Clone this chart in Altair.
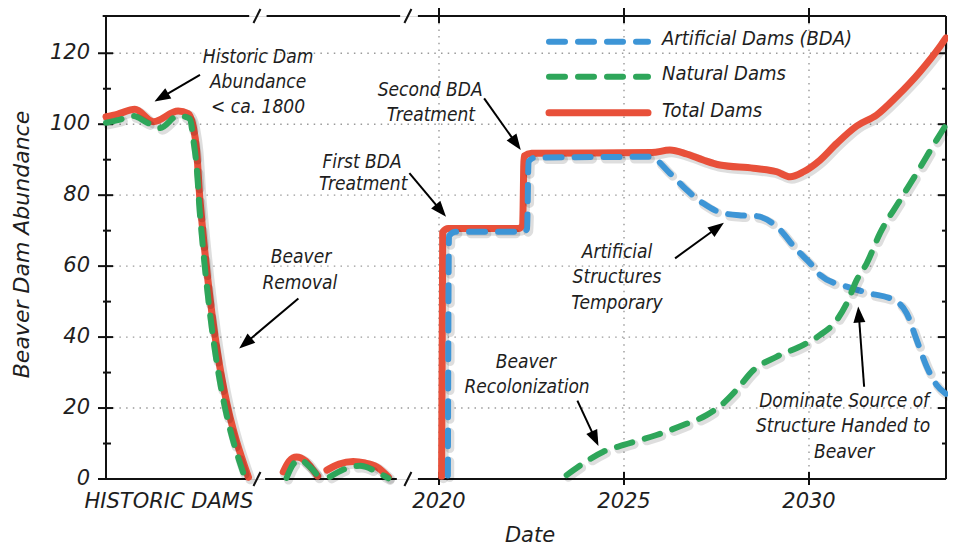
import math
import altair as alt
import pandas as pd

# ---------------- data ----------------
# Total dams (red, solid)
tot_hist_x = [2011.0, 2011.3, 2011.78, 2012.28, 2012.95, 2013.22, 2013.36, 2013.45, 2013.54, 2014.85]
tot_hist_y = [102.1, 102.8, 104.2, 100.7, 103.7, 103.0, 99.3, 92.7, 78.6, 0.5]
tot_mid1_x = [2015.79, 2015.95, 2016.15, 2016.4, 2016.6, 2016.72]
tot_mid1_y = [2.0, 5.0, 6.2, 5.0, 2.5, 0.8]
tot_mid2_x = [2016.97, 2017.3, 2017.68, 2018.0, 2018.32, 2018.63]
tot_mid2_y = [2.5, 4.2, 4.9, 4.5, 3.4, 0.6]
tot_mod_x = [2020.07, 2020.1, 2020.25, 2022.15, 2022.26, 2022.3, 2022.5, 2025.75, 2026.24,
             2026.69, 2027.14, 2027.59, 2028.5, 2029.13, 2029.49, 2029.85, 2030.3, 2030.75,
             2031.29, 2031.83, 2032.37, 2033.0, 2033.54, 2033.70]
tot_mod_y = [0.8, 69.6, 70.6, 70.6, 71.5, 91.0, 91.8, 92.0, 92.7,
             91.6, 89.9, 88.5, 87.6, 86.6, 85.2, 86.6, 89.9, 94.6,
             99.5, 102.6, 107.8, 114.8, 121.9, 124.3]

# Natural dams (green, dashed)
nat_hist_x = [2011.0, 2011.35, 2011.74, 2012.1, 2012.46, 2012.95, 2013.27, 2013.36, 2013.45, 2013.54, 2014.76]
nat_hist_y = [100.4, 101.2, 102.3, 100.5, 98.9, 102.4, 101.5, 95.6, 88.0, 74.5, 0.2]
nat_mid1_x = [2015.88, 2016.05, 2016.24, 2016.5, 2016.78]
nat_mid1_y = [0.3, 4.0, 5.4, 3.5, 0.2]
nat_mid2_x = [2017.05, 2017.5, 2017.86, 2018.32, 2018.63]
nat_mid2_y = [0.6, 3.0, 3.7, 2.0, 0.2]
nat_mod_x = [2023.45, 2023.9, 2024.44, 2024.99, 2025.88, 2026.6, 2027.23, 2027.68, 2028.04,
             2028.5, 2029.13, 2029.85, 2030.3, 2030.75, 2031.02, 2031.29, 2031.56, 2031.92,
             2032.46, 2032.91, 2033.45, 2033.70]
nat_mod_y = [1.1, 4.4, 7.7, 9.6, 12.4, 15.2, 18.0, 21.3, 25.1,
             30.7, 34.5, 37.8, 40.6, 44.8, 49.5, 56.1, 60.8, 69.3,
             78.6, 86.2, 95.6, 99.8]

# Artificial dams / BDA (blue, dashed)
art_mod_x = [2020.24, 2020.27, 2020.45, 2022.3, 2022.38, 2022.42, 2022.6, 2025.7, 2026.24,
             2026.69, 2027.14, 2027.68, 2028.2, 2028.59, 2029.13, 2029.67, 2030.12, 2030.3,
             2031.02, 2031.65, 2032.28, 2032.64, 2032.91, 2033.18, 2033.45, 2033.70]
art_mod_y = [1.0, 68.5, 69.7, 69.7, 70.5, 89.5, 90.6, 90.8, 86.2,
             81.5, 77.7, 74.9, 74.3, 74.1, 71.1, 64.6, 59.8, 57.5,
             54.2, 52.3, 50.5, 46.7, 39.2, 31.7, 26.5, 24.0]

y_major = [0, 20, 40, 60, 80, 100, 120]
y_minor = [10, 30, 50, 70, 90, 110]
y_grid = [20, 40, 60, 80, 100, 120]
x_years = [2020, 2025, 2030]
x_label_pos = [2012.70, 2020, 2025, 2030]
x_label_txt = ["HISTORIC DAMS", "2020", "2025", "2030"]
y_title = "Beaver Dam Abundance"
x_title = "Date"

# annotations: text lines with centre position (year, value)
ann_text = ["Historic Dam", "Abundance", "< ca. 1800", "Beaver", "Removal",
            "First BDA", "Treatment", "Second BDA", "Treatment",
            "Artificial", "Structures", "Temporary", "Beaver", "Recolonization",
            "Dominate Source of", "Structure Handed to", "Beaver"]
ann_x = [2015.11, 2015.11, 2015.11, 2016.27, 2016.24,
         2017.92, 2017.95, 2019.76, 2019.78,
         2024.81, 2024.81, 2024.81, 2022.35, 2022.38,
         2030.95, 2030.92, 2030.95]
ann_y = [119.0, 112.0, 104.9, 62.7, 55.3,
         89.4, 83.2, 109.7, 102.6,
         64.1, 57.0, 49.5, 33.1, 25.8,
         22.1, 14.9, 7.7]

# arrows: tail -> tip
arr_x1 = [2013.54, 2016.20, 2019.20, 2021.22, 2026.38, 2023.74, 2031.49]
arr_y1 = [113.9, 50.9, 86.2, 107.3, 62.2, 22.1, 26.0]
arr_x2 = [2012.31, 2014.60, 2020.19, 2022.21, 2027.70, 2024.31, 2031.33]
arr_y2 = [106.4, 36.8, 73.9, 92.7, 72.2, 9.3, 48.6]

# axis frame pieces (breaks)
top_seg_a = [2010.91, 2015.34, 2019.43]
top_seg_b = [2014.87, 2018.95, 2033.70]
bot_seg_a = [2010.79, 2015.30, 2019.43]
bot_seg_b = [2014.86, 2018.86, 2033.70]
break_pos = [2015.08, 2019.16]

legend_labels = ["Artificial Dams (BDA)", "Natural Dams", "Total Dams"]

# ---------------- layout / style ----------------
W, H = 840, 463
PX_PER_YEAR = 37.0
X0, X1 = 2011.0, 2011.0 + W / PX_PER_YEAR
Y0, Y1 = 0.0, 130.5
PX_PER_UNIT = H / (Y1 - Y0)

RED, GREEN, BLUE = "#E8503A", "#2EA65A", "#3D95D6"
INK = "#1e1e1e"
TICKFONT = "DejaVu Sans"
ANNFONT = "Liberation Sans Narrow, DejaVu Sans Condensed, Arial Narrow, sans-serif"
DASH = [16, 13]

xs = alt.Scale(domain=[X0, X1], nice=False, zero=False)
ys = alt.Scale(domain=[Y0, Y1], nice=False, zero=False)


def X(f):
    return alt.X(f, type="quantitative", scale=xs, axis=None)


def Y(f):
    return alt.Y(f, type="quantitative", scale=ys, axis=None)


def one():
    return pd.DataFrame({"v": [0]})


# ---------------- tables ----------------
def series_df(parts):
    rows = []
    for seg, xx, yy in parts:
        for a, b in zip(xx, yy):
            rows.append({"seg": seg, "year": a, "value": b})
    return pd.DataFrame(rows)


tot_df = series_df([("h", tot_hist_x, tot_hist_y), ("m1", tot_mid1_x, tot_mid1_y),
                    ("m2", tot_mid2_x, tot_mid2_y), ("mod", tot_mod_x, tot_mod_y)])
nat_df = series_df([("h", nat_hist_x, nat_hist_y), ("m1", nat_mid1_x, nat_mid1_y),
                    ("m2", nat_mid2_x, nat_mid2_y), ("mod", nat_mod_x, nat_mod_y)])
art_df = series_df([("mod", art_mod_x, art_mod_y)])

ann_df = pd.DataFrame({"t": ann_text, "x": ann_x, "y": ann_y})

shaft_x2, shaft_y2, angles = [], [], []
for a, b, c, d in zip(arr_x1, arr_y1, arr_x2, arr_y2):
    dx = (c - a) * PX_PER_YEAR
    dy = -(d - b) * PX_PER_UNIT
    L = math.hypot(dx, dy)
    ang = math.degrees(math.atan2(dx, -dy)) % 360
    angles.append(ang)
    back = 10.0
    shaft_x2.append(c - dx / L * back / PX_PER_YEAR)
    shaft_y2.append(d + dy / L * back / PX_PER_UNIT)
arr_df = pd.DataFrame({"x1": arr_x1, "y1": arr_y1, "x2": arr_x2, "y2": arr_y2,
                       "sx2": shaft_x2, "sy2": shaft_y2, "ang": angles})

# ---------------- axis labels & titles (text on the scales) ----------------
lab_style = dict(font=TICKFONT, fontStyle="italic", color=INK)
y_labels = alt.Chart(pd.DataFrame({"v": y_major, "t": [str(v) for v in y_major]})).mark_text(
    align="right", baseline="middle", fontSize=21, **lab_style).encode(
    y=Y("v:Q"), x=alt.value(-16), text="t:N")
x_labels = alt.Chart(pd.DataFrame({"v": x_label_pos, "t": x_label_txt})).mark_text(
    align="center", baseline="alphabetic", fontSize=21, **lab_style).encode(
    x=X("v:Q"), y=alt.value(H + 29), text="t:N")
y_title_l = alt.Chart(one()).mark_text(angle=270, align="center", baseline="middle",
                                       fontSize=22, **lab_style).encode(
    x=alt.value(-84), y=alt.value(H / 2 - 3), text=alt.value(y_title))
x_title_l = alt.Chart(one()).mark_text(align="center", baseline="middle", fontSize=21,
                                       **lab_style).encode(
    x=alt.value(W / 2 + 4), y=alt.value(H + 57), text=alt.value(x_title))

grid_style = dict(color="#9a9a9a", strokeDash=[1.5, 5.2], strokeWidth=1.4)
grid_h = alt.Chart(pd.DataFrame({"v": y_grid})).mark_rule(**grid_style).encode(
    y=Y("v:Q"), x=alt.value(0), x2=alt.value(W))
grid_v = alt.Chart(pd.DataFrame({"v": x_years})).mark_rule(**grid_style).encode(
    x=X("v:Q"), y=alt.value(0), y2=alt.value(H))

frame_style = dict(color="#111", strokeWidth=2)
left_line = alt.Chart(one()).mark_rule(**frame_style).encode(
    x=alt.value(0), y=alt.value(0), y2=alt.value(H))
right_line = alt.Chart(one()).mark_rule(**frame_style).encode(
    x=alt.value(W), y=alt.value(0), y2=alt.value(H))
top_line = alt.Chart(pd.DataFrame({"a": top_seg_a, "b": top_seg_b})).mark_rule(**frame_style).encode(
    x=X("a:Q"), x2="b:Q", y=alt.value(0))
bot_line = alt.Chart(pd.DataFrame({"a": bot_seg_a, "b": bot_seg_b})).mark_rule(**frame_style).encode(
    x=X("a:Q"), x2="b:Q", y=alt.value(H))
brk_df = pd.DataFrame({"a": [p - 3.5 / PX_PER_YEAR for p in break_pos],
                       "b": [p + 3.5 / PX_PER_YEAR for p in break_pos]})
top_brk = alt.Chart(brk_df).mark_rule(**frame_style).encode(
    x=X("a:Q"), x2="b:Q", y=alt.value(7), y2=alt.value(-7))
bot_brk = alt.Chart(brk_df).mark_rule(**frame_style).encode(
    x=X("a:Q"), x2="b:Q", y=alt.value(H + 7), y2=alt.value(H - 7))

tick_style = dict(color="#111", strokeWidth=2)
ymaj_df = pd.DataFrame({"v": y_major})
ymin_df = pd.DataFrame({"v": y_minor})
xt_df = pd.DataFrame({"v": x_years})
lt_major = alt.Chart(ymaj_df).mark_rule(**tick_style).encode(y=Y("v:Q"), x=alt.value(-8), x2=alt.value(7))
lt_minor = alt.Chart(ymin_df).mark_rule(**tick_style).encode(y=Y("v:Q"), x=alt.value(-3), x2=alt.value(5))
rt_major = alt.Chart(ymaj_df).mark_rule(**tick_style).encode(y=Y("v:Q"), x=alt.value(W - 8), x2=alt.value(W))
rt_minor = alt.Chart(ymin_df).mark_rule(**tick_style).encode(y=Y("v:Q"), x=alt.value(W - 4), x2=alt.value(W))
tt = alt.Chart(xt_df).mark_rule(**tick_style).encode(x=X("v:Q"), y=alt.value(-8), y2=alt.value(7))
bt = alt.Chart(xt_df).mark_rule(**tick_style).encode(x=X("v:Q"), y=alt.value(H - 7), y2=alt.value(H + 6))


def line_layer(df, color, dash=None, width=6.5):
    kw = dict(interpolate="monotone", strokeCap="round", strokeJoin="round")
    shadow_kw = dict(kw, color="#000", opacity=0.13, strokeWidth=width + 3)
    main_kw = dict(kw, color=color, strokeWidth=width)
    if dash:
        shadow_kw["strokeDash"] = dash
        main_kw["strokeDash"] = dash
    shadow = alt.Chart(df).transform_calculate(
        sx="datum.year + 0.05", sy="datum.value - 0.6"
    ).mark_line(**shadow_kw).encode(x=X("sx:Q"), y=Y("sy:Q"), detail="seg:N")
    main = alt.Chart(df).mark_line(**main_kw).encode(x=X("year:Q"), y=Y("value:Q"), detail="seg:N")
    return [shadow, main]


lines = (line_layer(tot_df, RED, None, 7) + line_layer(art_df, BLUE, DASH, 6)
         + line_layer(nat_df, GREEN, DASH, 6))

ann = alt.Chart(ann_df).mark_text(font=ANNFONT, fontStyle="italic", fontSize=19, fontWeight=500,
                                  color=INK, align="center", baseline="middle").encode(
    x=X("x:Q"), y=Y("y:Q"), text="t:N")

shafts = alt.Chart(arr_df).mark_rule(color="#000", strokeWidth=2).encode(
    x=X("x1:Q"), x2="sx2:Q", y=Y("y1:Q"), y2="sy2:Q")
heads = alt.Chart(arr_df).mark_point(shape="M0,0 L0.75,2 L-0.75,2 Z", filled=True,
                                     size=256, color="#000", opacity=1).encode(
    x=X("x2:Q"), y=Y("y2:Q"), angle=alt.Angle("ang:Q", scale=None))

# legend (drawn inside the plot, top right)
LG_X1, LG_X2, LG_TX = 443, 542, 556
lg_y = [25.7, 60.7, 96.7]
lg_ty = [22.8, 58.3, 95.0]
legend_layers = []
for lab, col, dash, yy, ty, wdt in zip(legend_labels, [BLUE, GREEN, RED], [DASH, DASH, None],
                                        lg_y, lg_ty, [6, 6, 7]):
    kw = dict(color=col, strokeWidth=wdt, strokeCap="round")
    if dash:
        kw["strokeDash"] = dash
    legend_layers.append(alt.Chart(one()).mark_rule(**kw).encode(
        x=alt.value(LG_X1), x2=alt.value(LG_X2), y=alt.value(yy)))
    legend_layers.append(alt.Chart(one()).mark_text(
        font=ANNFONT, fontStyle="italic", fontSize=20, fontWeight=500, color=INK, align="left",
        baseline="middle").encode(x=alt.value(LG_TX), y=alt.value(ty), text=alt.value(lab)))

chart = alt.layer(
    grid_h, grid_v, left_line, right_line, top_line, bot_line, top_brk, bot_brk,
    lt_major, lt_minor, rt_major, rt_minor, tt, bt,
    y_labels, x_labels, y_title_l, x_title_l,
    *lines, ann, shafts, heads, *legend_layers
).properties(
    width=W, height=H,
    padding={"left": 98, "top": 8, "right": 2, "bottom": 70},
    autosize=alt.AutoSizeParams(type="none"),
).configure_view(stroke=None).configure(background="white")

chart.save("out.html", embed_options={"renderer": "svg", "actions": False})
